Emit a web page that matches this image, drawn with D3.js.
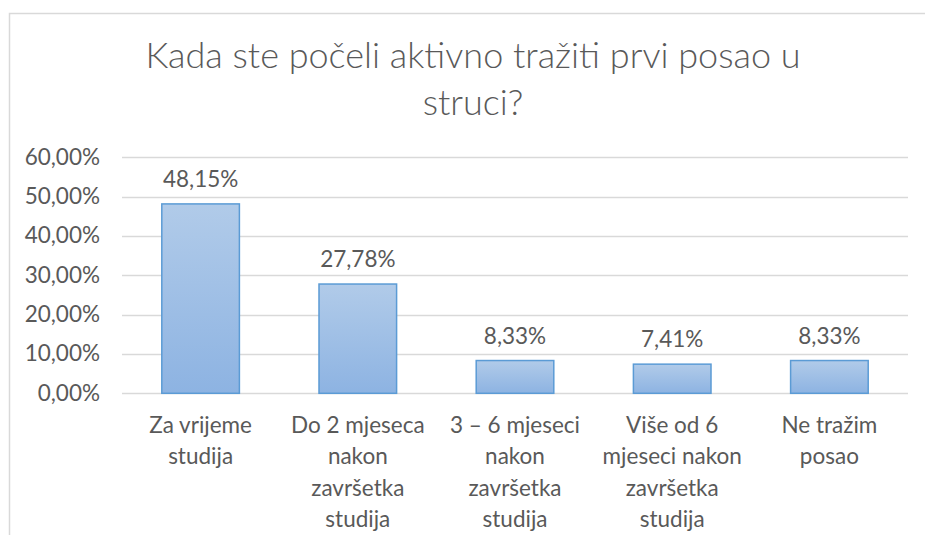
<!DOCTYPE html>
<html>
<head>
<meta charset="utf-8">
<script src="https://cdn.jsdelivr.net/npm/d3@7"></script>
<style>
    body { margin: 0; background: #fff; }
    text { font-family: Lato, "Open Sans", sans-serif; fill: #595959; }
</style>
</head>
<body>
<svg id="chart" width="925" height="535"></svg>
<script>
// chart data
var titleLines = ["Kada ste počeli aktivno tražiti prvi posao u", "struci?"];
var categories = ["Za vrijeme studija", "Do 2 mjeseca nakon završetka studija", "3 – 6 mjeseci nakon završetka studija", "Više od 6 mjeseci nakon završetka studija", "Ne tražim posao"];
var categoryLines = [
    ["Za vrijeme", "studija"],
    ["Do 2 mjeseca", "nakon", "završetka", "studija"],
    ["3 – 6 mjeseci", "nakon", "završetka", "studija"],
    ["Više od 6", "mjeseci nakon", "završetka", "studija"],
    ["Ne tražim", "posao"]
];
var values = [48.15, 27.78, 8.33, 7.41, 8.33];
var yTicks = [0, 10, 20, 30, 40, 50, 60];

var plotLeft = 122, plotRight = 908, plotTop = 157.3, plotBottom = 393.3;

var hr = d3.formatLocale({decimal: ",", thousands: ".", grouping: [3], currency: ["", " kn"]});
var fmt = hr.format(".2f");

var svg = d3.select("#chart");

// outer frame (only left and top edges are visible in the crop)
svg.append("path")
    .attr("d", "M9.5,535V13.5H925")
    .attr("fill", "none")
    .attr("stroke", "#d9d9d9")
    .attr("stroke-width", 1.5);

var defs = svg.append("defs");
var grad = defs.append("linearGradient")
    .attr("id", "barFill")
    .attr("x1", 0).attr("y1", 0).attr("x2", 0).attr("y2", 1);
grad.append("stop").attr("offset", "0%").attr("stop-color", "#b1cbe9");
grad.append("stop").attr("offset", "100%").attr("stop-color", "#8db3e2");

var x = d3.scaleBand()
    .domain(categories)
    .range([plotLeft, plotRight])
    .paddingInner(0.5)
    .paddingOuter(0.25);

var y = d3.scaleLinear()
    .domain([0, 60])
    .range([plotBottom, plotTop]);

// title
svg.append("g").selectAll("text").data(titleLines).enter()
    .append("text")
    .attr("x", 473)
    .attr("y", function (d, i) { return 68 + i * 47; })
    .attr("text-anchor", "middle")
    .style("font-size", "36px")
    .style("font-weight", 300)
    .text(function (d) { return d; });

// gridlines
svg.append("g").selectAll("line").data(yTicks).enter()
    .append("line")
    .attr("x1", plotLeft).attr("x2", plotRight)
    .attr("y1", function (d) { return Math.round(y(d)) + 0.5; })
    .attr("y2", function (d) { return Math.round(y(d)) + 0.5; })
    .attr("stroke", "#d9d9d9")
    .attr("stroke-width", 1.3);

// y tick labels
svg.append("g").selectAll("text").data(yTicks).enter()
    .append("text")
    .attr("x", 100)
    .attr("y", function (d) { return y(d) + 7.5; })
    .attr("text-anchor", "end")
    .style("font-size", "22.5px")
    .text(function (d) { return fmt(d) + "%"; });

// bars
svg.append("g").selectAll("rect").data(values).enter()
    .append("rect")
    .attr("x", function (d, i) { return x(categories[i]) + 0.5; })
    .attr("y", function (d) { return y(d); })
    .attr("width", x.bandwidth() - 1)
    .attr("height", function (d) { return y(0) - y(d); })
    .attr("fill", "url(#barFill)")
    .attr("stroke", "#5b9bd5")
    .attr("stroke-width", 1.5);

// value labels
svg.append("g").selectAll("text").data(values).enter()
    .append("text")
    .attr("x", function (d, i) { return x(categories[i]) + x.bandwidth() / 2; })
    .attr("y", function (d) { return y(d) - 17; })
    .attr("text-anchor", "middle")
    .style("font-size", "22.5px")
    .text(function (d) { return fmt(d) + "%"; });

// category labels
var cat = svg.append("g").selectAll("text").data(categoryLines).enter()
    .append("text")
    .attr("text-anchor", "middle")
    .style("font-size", "22.5px");
cat.selectAll("tspan").data(function (d, i) { return d.map(function (s) { return {s: s, i: i}; }); }).enter()
    .append("tspan")
    .attr("x", function (d) { return x(categories[d.i]) + x.bandwidth() / 2; })
    .attr("y", function (d, j) { return 433 + j * 31.3; })
    .text(function (d) { return d.s; });
</script>
</body>
</html>
